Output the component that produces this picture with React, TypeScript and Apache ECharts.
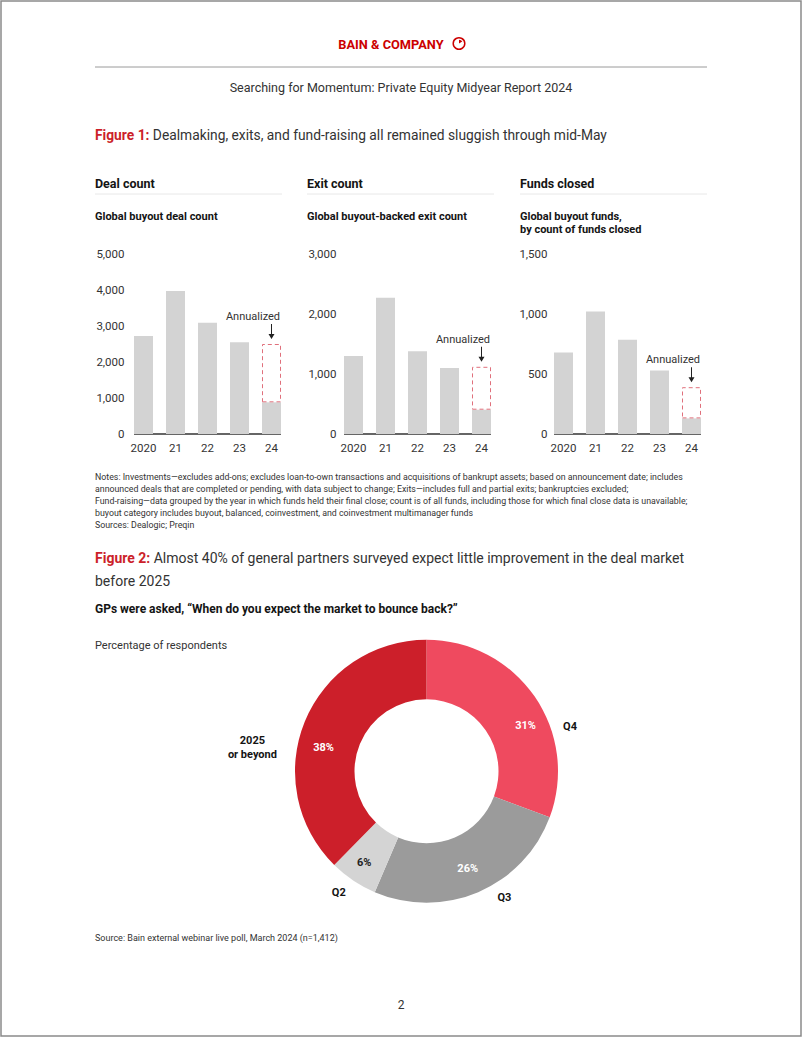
import React, { useEffect, useRef } from 'react';
import * as echarts from 'echarts';

// ---------- data ----------
const categories = ['2020', '21', '22', '23', '24'];
const dealCount = [2720, 3970, 3090, 2550, 880];
const dealAnnualized = 2500;
const exitCount = [1300, 2270, 1380, 1100, 405];
const exitAnnualized = 1120;
const fundsClosed = [680, 1020, 785, 530, 130];
const fundsAnnualized = 390;
const dealTicks = { max: 5000, interval: 1000 };
const exitTicks = { max: 3000, interval: 1000 };
const fundsTicks = { max: 1500, interval: 500 };

const pieNames = ['Q4', 'Q3', 'Q2', '2025\nor beyond'];
const pieValues = [31, 26, 6, 38];

const noteLines = [
  'Notes: Investments\u2014excludes add-ons; excludes loan-to-own transactions and acquisitions of bankrupt assets; based on announcement date; includes',
  'announced deals that are completed or pending, with data subject to change; Exits\u2014includes full and partial exits; bankruptcies excluded;',
  'Fund-raising\u2014data grouped by the year in which funds held their final close; count is of all funds, including those for which final close data is unavailable;',
  'buyout category includes buyout, balanced, coinvestment, and coinvestment multimanager funds',
  'Sources: Dealogic; Preqin',
];

// ---------- styles / layout ----------
const FONT = 'Roboto, "Noto Sans", sans-serif';
const RED = '#cc1f2a';
const TEXT = '#333333';
const DARK = '#141414';
const BAR = '#d3d3d3';
const pieColors = ['#ef4a5f', '#9b9b9b', '#d4d4d4', '#cc1f2a'];
const pieInsideText = ['#ffffff', '#ffffff', '#222222', '#ffffff'];
const insideShift = [[13, 14], [0, 1], [-4, 4], [-6, 16]];
const outsideShift = [[17, 35], [11, -2], [2, 5], [-40, 29]];

const panels = [
  { left: 127.5, margin: 3, values: dealCount, annual: dealAnnualized, ticks: dealTicks, header: 'Deal count', sub: ['Global buyout deal count'], hx: 95 },
  { left: 337.5, margin: 1, values: exitCount, annual: exitAnnualized, ticks: exitTicks, header: 'Exit count', sub: ['Global buyout-backed exit count'], hx: 307 },
  { left: 547.5, margin: 0, values: fundsClosed, annual: fundsAnnualized, ticks: fundsTicks, header: 'Funds closed', sub: ['Global buyout funds,', 'by count of funds closed'], hx: 520 },
];
const GRID_TOP = 254;
const GRID_H = 180;
const GRID_W = 160;
const BAR_W = 19;

const arrowPath = 'path://M2.5,0L3.5,0L3.5,10L6,10L3,15L0,10L2.5,10Z';

function txt(text: string, x: number, y: number, opts: any = {}) {
  return {
    type: 'text',
    x,
    y,
    silent: true,
    style: {
      text,
      fill: opts.fill || TEXT,
      fontSize: opts.fontSize || 12,
      fontWeight: opts.fontWeight || 'normal',
      fontFamily: FONT,
      textAlign: opts.align || 'left',
      textVerticalAlign: 'middle',
      rich: opts.rich,
    },
  };
}

export default function App() {
  const ref = useRef<HTMLDivElement>(null);

  useEffect(() => {
    if (!ref.current) return;
    const chart = echarts.init(ref.current, undefined, { renderer: 'svg' });

    const grids: any[] = [];
    const xAxes: any[] = [];
    const yAxes: any[] = [];
    const series: any[] = [];
    const graphics: any[] = [];

    panels.forEach((p, i) => {
      grids.push({ left: p.left, top: GRID_TOP, width: GRID_W, height: GRID_H });
      xAxes.push({
        type: 'category',
        gridIndex: i,
        data: categories,
        axisLine: { show: false },
        axisTick: { show: false },
        axisLabel: { color: TEXT, fontSize: 11.5, fontFamily: FONT, margin: 8, interval: 0 },
      });
      yAxes.push({
        type: 'value',
        gridIndex: i,
        min: 0,
        max: p.ticks.max,
        interval: p.ticks.interval,
        splitLine: { show: false },
        axisLine: { show: false },
        axisTick: { show: false },
        axisLabel: {
          color: TEXT,
          fontSize: 11.5,
          fontFamily: FONT,
          margin: p.margin,
          formatter: (v: number) => v.toLocaleString('en-US'),
        },
      });
      const last = p.values.length - 1;
      series.push({
        type: 'bar',
        xAxisIndex: i,
        yAxisIndex: i,
        stack: 's' + i,
        barWidth: BAR_W,
        silent: true,
        itemStyle: { color: BAR },
        data: p.values,
      });
      series.push({
        type: 'bar',
        xAxisIndex: i,
        yAxisIndex: i,
        stack: 's' + i,
        barWidth: BAR_W,
        silent: true,
        itemStyle: {
          color: 'rgba(255,255,255,0)',
          borderColor: '#e0707c',
          borderWidth: 1,
          borderType: [4, 3],
        },
        data: p.values.map((v, j) => (j === last ? p.annual - v : '-')),
        markPoint: {
          silent: true,
          symbol: arrowPath,
          symbolSize: [6, 15],
          symbolOffset: [0, -12.5],
          itemStyle: { color: '#222' },
          label: {
            show: true,
            position: 'top',
            distance: 2,
            offset: [-18.5, 0],
            formatter: 'Annualized',
            color: TEXT,
            fontSize: 11,
            fontFamily: FONT,
          },
          data: [{ coord: [categories[last], p.annual] }],
        },
      });
      // baseline across the bars
      const gap = (GRID_W / categories.length - BAR_W) / 2;
      graphics.push({
        type: 'line',
        silent: true,
        shape: { x1: p.left + gap, y1: GRID_TOP + GRID_H, x2: p.left + GRID_W - gap, y2: GRID_TOP + GRID_H },
        style: { stroke: '#333', lineWidth: 1.3 },
      });
      graphics.push(txt(p.header, p.hx, 183, { fontSize: 12.5, fontWeight: 'bold', fill: DARK }));
      graphics.push({
        type: 'line',
        silent: true,
        shape: { x1: p.hx, y1: 194, x2: p.hx + 187, y2: 194 },
        style: { stroke: '#e8e8e8', lineWidth: 1 },
      });
      p.sub.forEach((s, k) => {
        graphics.push(txt(s, p.hx, 216.5 + k * 13, { fontSize: 11, fontWeight: 'bold', fill: DARK }));
      });
    });

    // page frame & header
    graphics.push({
      type: 'rect',
      silent: true,
      shape: { x: 1, y: 1, width: 800, height: 1035 },
      style: { fill: 'none', stroke: '#8a8a8a', lineWidth: 1.5 },
    });
    graphics.push(txt('BAIN & COMPANY', 391, 44, { fontSize: 12.8, fontWeight: 'bold', fill: '#cc0000', align: 'center' }));
    graphics.push({
      type: 'circle',
      silent: true,
      shape: { cx: 459, cy: 43.5, r: 5.8 },
      style: { fill: 'none', stroke: '#cc0000', lineWidth: 1.5 },
    });
    graphics.push({
      type: 'sector',
      silent: true,
      shape: { cx: 459, cy: 43.5, r0: 0, r: 3.8, startAngle: -Math.PI / 2, endAngle: -Math.PI / 6 },
      style: { fill: '#cc0000' },
    });
    graphics.push({
      type: 'line',
      silent: true,
      shape: { x1: 95, y1: 67, x2: 707, y2: 67 },
      style: { stroke: '#9a9a9a', lineWidth: 1 },
    });
    graphics.push(txt('Searching for Momentum: Private Equity Midyear Report 2024', 401, 87, { fontSize: 12.5, align: 'center' }));

    graphics.push(
      txt('{r|Figure 1:} Dealmaking, exits, and fund-raising all remained sluggish through mid-May', 95, 135, {
        fontSize: 13.8,
        rich: { r: { fill: RED, fontWeight: 'bold', fontSize: 13.8, fontFamily: FONT } },
      })
    );

    noteLines.forEach((l, k) => {
      graphics.push(txt(l, 95, 477 + k * 12, { fontSize: 8.8 }));
    });

    graphics.push(
      txt('{r|Figure 2:} Almost 40% of general partners surveyed expect little improvement in the deal market', 95, 558, {
        fontSize: 14,
        rich: { r: { fill: RED, fontWeight: 'bold', fontSize: 14, fontFamily: FONT } },
      })
    );
    graphics.push(txt('before 2025', 95, 581, { fontSize: 14 }));
    graphics.push(txt('GPs were asked, \u201cWhen do you expect the market to bounce back?\u201d', 95, 609, { fontSize: 12, fontWeight: 'bold', fill: DARK }));
    graphics.push(txt('Percentage of respondents', 95, 645, { fontSize: 11 }));
    graphics.push(txt('Source: Bain external webinar live poll, March 2024 (n=1,412)', 95, 938, { fontSize: 9 }));
    graphics.push(txt('2', 401, 1005, { fontSize: 12, align: 'center' }));

    const pieData = pieValues.map((v, k) => ({
      name: pieNames[k],
      value: v,
      itemStyle: { color: pieColors[k] },
      label: { color: pieInsideText[k] },
    }));

    series.push({
      type: 'pie',
      center: [426.5, 771.3],
      radius: [72, 131.5],
      startAngle: 90,
      clockwise: true,
      avoidLabelOverlap: false,
      silent: true,
      label: {
        show: true,
        position: 'inside',
        formatter: '{c}%',
        fontSize: 11,
        fontWeight: 'bold',
        fontFamily: FONT,
      },
      labelLine: { show: false },
      labelLayout: (params: any) => ({ dx: insideShift[params.dataIndex][0], dy: insideShift[params.dataIndex][1] }),
      data: pieData,
    });
    series.push({
      type: 'pie',
      center: [426.5, 771.3],
      radius: [72, 131.5],
      startAngle: 90,
      clockwise: true,
      avoidLabelOverlap: false,
      silent: true,
      itemStyle: { color: 'rgba(0,0,0,0)' },
      label: {
        show: true,
        position: 'outside',
        formatter: '{b}',
        fontSize: 11,
        fontWeight: 'bold',
        lineHeight: 14,
        color: DARK,
        fontFamily: FONT,
      },
      labelLine: { show: false, length: 8, length2: 0 },
      labelLayout: (params: any) => {
        const s = outsideShift[params.dataIndex];
        const r: any = { dx: s[0], dy: s[1] };
        if (params.dataIndex === 3) r.align = 'center';
        return r;
      },
      data: pieValues.map((v, k) => ({ name: pieNames[k], value: v })),
    });

    chart.setOption({
      animation: false,
      backgroundColor: '#ffffff',
      grid: grids,
      xAxis: xAxes,
      yAxis: yAxes,
      series,
      graphic: graphics,
    });

    return () => chart.dispose();
  }, []);

  return (
    <div
      ref={ref}
      style={{ position: 'absolute', left: 0, top: 0, width: 802, height: 1037, background: '#fff' }}
    />
  );
}
